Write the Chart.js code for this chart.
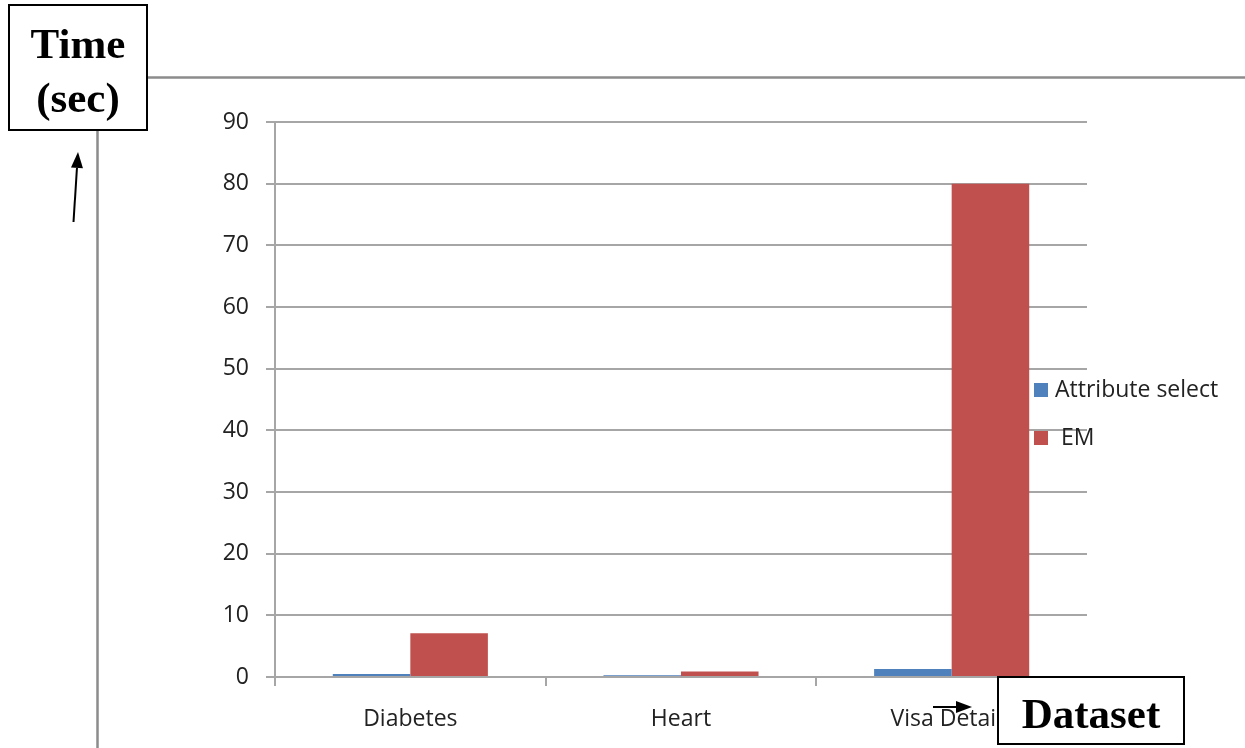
<!DOCTYPE html>
<html>
<head>
<meta charset="utf-8">
<script src="https://cdn.jsdelivr.net/npm/chart.js@4/dist/chart.umd.min.js"></script>
<style>
  html, body { margin: 0; padding: 0; background: #fff; }
  #wrap { position: relative; width: 1245px; height: 748px; }
  canvas { display: block; }
</style>
</head>
<body>
<div id="wrap"><canvas id="c" width="1245" height="748"></canvas></div>
<script>
// Processing time per dataset (seconds)
const categories = ['Diabetes', 'Heart', 'Visa Details'];
const attributeSelect = [0.5, 0.3, 1.3];
const emTimes = [7.1, 0.9, 80];
const yTicks = [0, 10, 20, 30, 40, 50, 60, 70, 80, 90];

const seriesNames = ['Attribute select', 'EM'];
const seriesColors = ['#4F81BD', '#C0504D'];

const GRID = '#a6a6a6';
const LABEL_FONT = { family: '"Open Sans", sans-serif', size: 23 };

// Legend drawn over the right end of the plot area
const legendPlugin = {
  id: 'sideLegend',
  afterDraw(chart) {
    const ctx = chart.ctx;
    ctx.save();
    ctx.font = '23px "Open Sans", sans-serif';
    ctx.textBaseline = 'middle';
    const x = 1034, ys = [390, 438];
    chart.data.datasets.forEach((ds, i) => {
      ctx.fillStyle = ds.backgroundColor;
      ctx.fillRect(x, ys[i] - 7, 14, 14);
      ctx.fillStyle = '#222';
      ctx.fillText(ds.label, x + (i === 0 ? 21 : 27), ys[i]);
    });
    ctx.restore();
  }
};

// Axis captions, frame lines and arrows around the chart
const annotations = {
  id: 'frameNotes',
  afterDraw(chart) {
    const ctx = chart.ctx;
    ctx.save();
    // grey frame lines
    ctx.strokeStyle = '#8c8c8c';
    ctx.lineWidth = 2.5;
    ctx.beginPath();
    ctx.moveTo(147, 77.5); ctx.lineTo(1245, 77.5);
    ctx.moveTo(97.5, 130); ctx.lineTo(97.5, 748);
    ctx.stroke();

    // caption boxes
    function box(x, y, w, h, lines, baselines) {
      ctx.fillStyle = '#fff';
      ctx.fillRect(x, y, w, h);
      ctx.strokeStyle = '#000';
      ctx.lineWidth = 2;
      ctx.strokeRect(x, y, w, h);
      ctx.fillStyle = '#000';
      ctx.font = 'bold 43px "Liberation Serif", "Times New Roman", serif';
      ctx.textAlign = 'center';
      ctx.textBaseline = 'alphabetic';
      lines.forEach((t, i) => ctx.fillText(t, x + w / 2, baselines[i]));
    }
    box(9, 5, 138, 125, ['Time', '(sec)'], [58, 112]);
    box(998, 677, 186, 67, ['Dataset'], [728]);

    // arrows
    function arrow(x1, y1, x2, y2) {
      const a = Math.atan2(y2 - y1, x2 - x1);
      const hl = 16, hw = 6;
      const bx = x2 - hl * Math.cos(a), by = y2 - hl * Math.sin(a);
      ctx.strokeStyle = '#000';
      ctx.fillStyle = '#000';
      ctx.lineWidth = 2;
      ctx.beginPath();
      ctx.moveTo(x1, y1); ctx.lineTo(bx, by);
      ctx.stroke();
      ctx.beginPath();
      ctx.moveTo(x2, y2);
      ctx.lineTo(bx + hw * Math.sin(a), by - hw * Math.cos(a));
      ctx.lineTo(bx - hw * Math.sin(a), by + hw * Math.cos(a));
      ctx.closePath();
      ctx.fill();
    }
    arrow(73.5, 222, 78, 152);
    arrow(933, 707, 972, 707);
    ctx.restore();
  }
};

new Chart(document.getElementById('c'), {
  type: 'bar',
  data: {
    labels: categories,
    datasets: [
      { label: seriesNames[0], data: attributeSelect, backgroundColor: seriesColors[0] },
      { label: seriesNames[1], data: emTimes, backgroundColor: seriesColors[1] }
    ]
  },
  options: {
    responsive: false,
    animation: false,
    devicePixelRatio: 1,
    layout: { padding: { top: 122, right: 158, left: 0, bottom: 0 } },
    datasets: { bar: { categoryPercentage: 0.573, barPercentage: 1.0, borderWidth: 0 } },
    plugins: { legend: { display: false }, tooltip: { enabled: false } },
    scales: {
      x: {
        offset: true,
        afterFit(s) { s.height = 71; },
        grid: { offset: true, drawOnChartArea: false, drawTicks: true, tickLength: 9, color: GRID, lineWidth: 2 },
        border: { display: true, color: GRID, width: 2 },
        ticks: { color: '#222', font: LABEL_FONT, padding: 20, maxRotation: 0, autoSkip: false }
      },
      y: {
        min: 0,
        max: 90,
        afterFit(s) { s.width = 275; },
        afterBuildTicks(s) { s.ticks = yTicks.map(v => ({ value: v })); },
        grid: { color: GRID, lineWidth: 2, tickLength: 9 },
        border: { display: true, color: GRID, width: 2 },
        ticks: { color: '#222', font: LABEL_FONT, padding: 17 }
      }
    }
  },
  plugins: [legendPlugin, annotations]
});
</script>
</body>
</html>
